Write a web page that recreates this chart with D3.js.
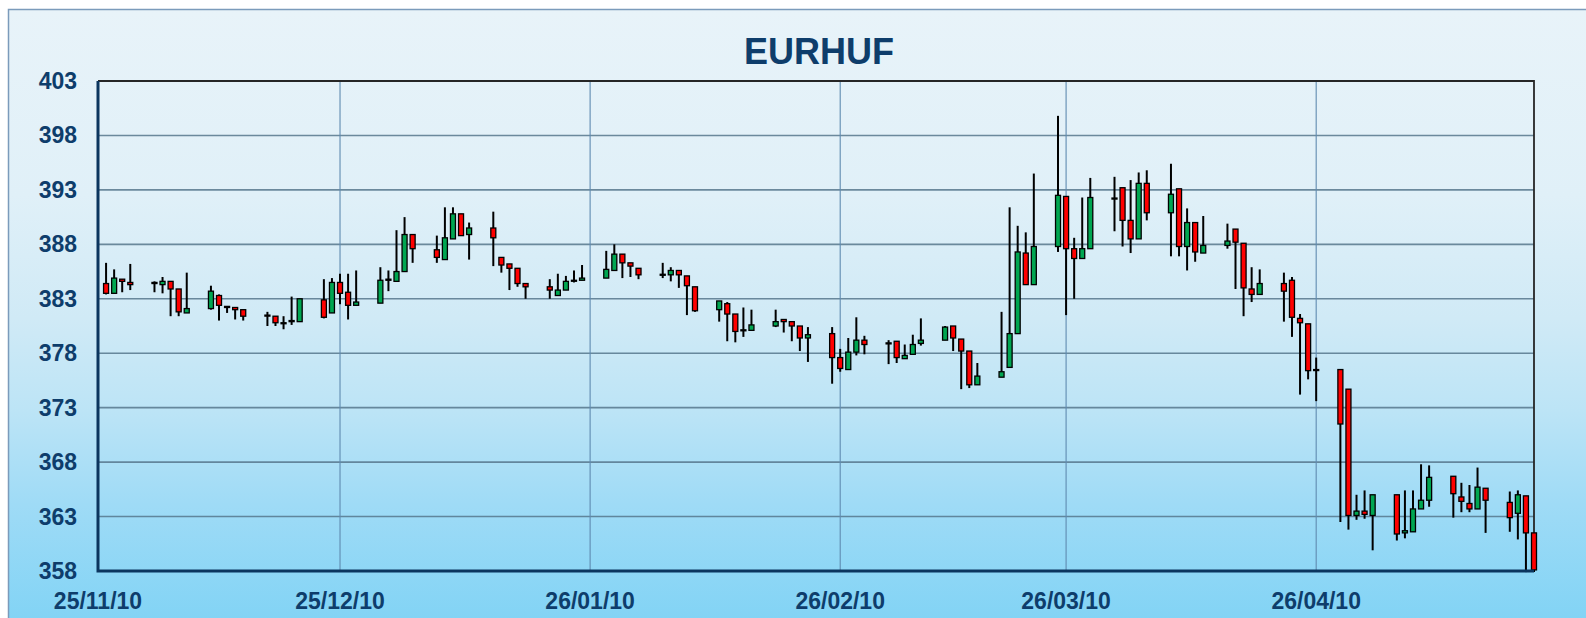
<!DOCTYPE html>
<html>
<head>
<meta charset="utf-8">
<title>EURHUF</title>
<script src="https://d3js.org/d3.v7.min.js"></script>
<style>
  html, body { margin: 0; padding: 0; background: #ffffff; }
  #chart { width: 1586px; height: 618px; overflow: hidden; }
  text { font-family: "Liberation Sans", Arial, sans-serif; font-weight: bold; }
</style>
</head>
<body>
<div id="chart"></div>
<script>
/**
 * EURHUF daily candlestick chart.
 * x = calendar days since 25/11/10, y = rate.
 */
(function () {
  'use strict';

  // calendar day offset of each candle (0 = 25/11/10)
  var days = [1, 2, 3, 4, 7, 8, 9, 10, 11, 14, 15, 16, 17, 18, 21, 22, 23, 24, 25,
    28, 29, 30, 31, 32, 35, 36, 37, 38, 39, 42, 43, 44, 45, 46, 49, 50, 51, 52, 53,
    56, 57, 58, 59, 60, 63, 64, 65, 66, 67, 70, 71, 72, 73, 74, 77, 78, 79, 80, 81,
    84, 85, 86, 87, 88, 91, 92, 93, 94, 95, 98, 99, 100, 101, 102, 105, 106, 107, 108, 109,
    112, 113, 114, 115, 116, 119, 120, 121, 122, 123, 126, 127, 128, 129, 130,
    133, 134, 135, 136, 137, 140, 141, 142, 143, 144, 147, 148, 149, 150, 151,
    154, 155, 156, 157, 158, 161, 162, 163, 164, 165, 168, 169, 170, 171, 172,
    175, 176, 177, 178];

  var open = [384.4, 383.5, 384.8, 384.5, 384.5, 384.3, 384.6, 383.9, 381.7, 382.1, 383.3, 382.3, 382.2, 382.0, 381.5, 381.4, 380.8, 380.9, 380.9,
    382.9, 381.7, 384.5, 383.6, 382.4, 382.6, 384.8, 384.6, 385.5, 388.9, 387.5, 386.6, 388.5, 390.8, 388.9, 389.5, 386.8, 386.2, 385.8, 384.4,
    384.1, 383.3, 383.8, 384.65, 384.7, 384.9, 385.6, 387.1, 386.3, 385.8, 385.2, 385.2, 385.6, 385.1, 384.1, 382.0, 382.55, 381.6, 380.1, 380.1,
    380.5, 381.1, 380.9, 380.5, 379.4, 379.8, 377.6, 376.5, 378.1, 379.2, 378.9, 379.1, 377.5, 377.9, 378.9, 379.2, 380.5, 379.3, 378.2, 375.1,
    375.8, 376.7, 379.8, 387.2, 384.3, 387.8, 392.4, 387.6, 386.7, 387.6, 392.2, 393.2, 390.2, 388.5, 393.6,
    390.9, 393.1, 387.8, 390.0, 387.2, 387.9, 389.4, 388.1, 383.9, 383.4, 384.4, 384.7, 381.2, 380.7, 376.5,
    376.5, 374.7, 363.1, 363.5, 363.1, 365.0, 361.5, 361.6, 363.7, 364.5, 366.7, 364.8, 364.2, 363.7, 365.6,
    364.3, 363.3, 364.9, 361.5];

  var high = [386.3, 385.7, 384.8, 386.2, 384.6, 385.0, 384.6, 383.9, 385.4, 384.2, 383.4, 382.3, 382.2, 382.0, 381.8, 381.4, 381.4, 383.2, 383.0,
    384.8, 384.9, 385.3, 385.3, 385.6, 385.9, 385.6, 389.3, 390.5, 388.9, 388.8, 391.4, 391.4, 390.8, 390.0, 391.0, 386.8, 386.2, 385.8, 384.4,
    384.8, 385.3, 385.1, 385.6, 386.1, 387.4, 388.0, 387.1, 386.3, 385.8, 386.3, 385.9, 385.6, 385.1, 384.1, 382.8, 382.7, 381.6, 382.2, 382.0,
    382.0, 381.1, 380.9, 380.5, 380.4, 380.4, 378.4, 379.4, 381.3, 379.6, 379.2, 379.1, 378.8, 379.7, 381.2, 380.5, 380.5, 379.3, 378.2, 377.1,
    381.8, 391.4, 389.7, 389.1, 394.5, 399.8, 392.4, 388.6, 392.3, 394.1, 394.2, 393.2, 393.9, 394.6, 394.8,
    395.4, 393.1, 391.3, 390.0, 390.6, 389.9, 389.4, 388.1, 385.9, 385.7, 385.4, 385.0, 381.6, 380.7, 377.6,
    376.5, 374.7, 365.0, 365.4, 365.0, 365.0, 365.4, 365.4, 367.8, 367.7, 366.7, 366.1, 365.9, 367.5, 365.6,
    365.3, 365.4, 364.9, 361.5];

  var low = [383.4, 383.5, 383.6, 383.8, 383.6, 383.5, 381.4, 381.4, 381.7, 382.0, 381.0, 381.7, 381.1, 381.0, 380.5, 380.5, 380.2, 380.6, 380.9,
    381.2, 381.7, 382.5, 381.1, 382.4, 382.6, 383.7, 384.6, 385.5, 386.3, 386.3, 386.6, 388.5, 388.8, 386.6, 386.0, 385.4, 383.8, 384.1, 383.0,
    383.0, 383.3, 383.8, 384.5, 384.7, 384.9, 385.6, 384.9, 385.0, 384.8, 384.9, 384.6, 384.0, 381.5, 381.8, 380.9, 379.1, 379.0, 379.5, 380.1,
    380.4, 379.9, 379.1, 378.2, 377.2, 375.2, 376.3, 376.5, 377.8, 377.9, 377.0, 377.1, 377.5, 377.9, 378.7, 379.2, 378.2, 374.7, 374.8, 375.1,
    375.8, 376.7, 379.8, 384.3, 384.3, 387.3, 381.5, 383.0, 386.7, 387.6, 389.2, 387.8, 387.2, 388.5, 390.2,
    386.9, 386.9, 385.6, 386.4, 387.2, 387.6, 383.9, 381.4, 382.7, 383.4, 380.9, 379.5, 374.2, 375.6, 373.6,
    362.5, 361.8, 362.7, 362.8, 359.9, 360.8, 361.0, 361.6, 363.7, 363.9, 362.9, 363.4, 363.4, 363.7, 361.5,
    361.6, 360.9, 357.9, 357.9];

  var close = [383.5, 384.9, 384.6, 384.3, 384.4, 384.6, 383.9, 381.8, 382.1, 383.7, 382.4, 382.2, 382.0, 381.4, 381.45, 380.8, 380.8, 381.0, 383.0,
    381.3, 384.5, 383.5, 382.4, 382.7, 384.7, 384.7, 385.5, 388.9, 387.6, 386.8, 388.6, 390.8, 388.8, 389.5, 388.6, 386.1, 385.8, 384.4, 384.1,
    383.8, 383.8, 384.6, 384.7, 384.9, 385.7, 387.1, 386.3, 386.0, 385.2, 385.25, 385.6, 385.2, 384.2, 381.9, 382.8, 381.6, 380.0, 380.15, 380.6,
    380.9, 380.9, 380.5, 379.4, 379.7, 377.6, 376.6, 378.1, 379.2, 378.8, 378.95, 377.6, 377.8, 378.8, 379.2, 380.4, 379.4, 378.2, 375.1, 375.9,
    376.3, 379.8, 387.3, 384.3, 387.8, 392.5, 387.6, 386.7, 387.6, 392.3, 392.25, 390.2, 388.5, 393.6, 390.9,
    392.6, 387.8, 390.0, 387.3, 387.9, 388.3, 388.2, 384.0, 383.4, 384.4, 383.7, 381.3, 380.8, 376.4, 376.45,
    371.5, 363.1, 363.5, 363.2, 365.0, 361.4, 361.7, 363.7, 364.5, 366.6, 365.1, 364.4, 363.7, 365.7, 364.5,
    362.9, 365.0, 361.5, 358.1];

  var yTicks = [358, 363, 368, 373, 378, 383, 388, 393, 398, 403];
  var xTickDays = [0, 30, 61, 92, 120, 151];
  var xTickLabels = ['25/11/10', '25/12/10', '26/01/10', '26/02/10', '26/03/10', '26/04/10'];
  var title = 'EURHUF';

  var W = 1586;
  var H = 618;
  var plot = { left: 98, top: 81, right: 1534, bottom: 571 };
  var navy = '#0e3d6b';

  var candles = days.map(function (d, i) {
    return { day: d, o: open[i], h: high[i], l: low[i], c: close[i] };
  });

  var svg = d3.select('#chart').append('svg')
    .attr('width', W)
    .attr('height', H);

  var defs = svg.append('defs');
  var grad = defs.append('linearGradient')
    .attr('id', 'bgGrad')
    .attr('x1', '0%').attr('y1', '0%').attr('x2', '0%').attr('y2', '100%');
  [['0%', '#e8f3f9'], ['30%', '#e0f0f8'], ['50%', '#d0eaf6'], ['65%', '#bce4f6'], ['80%', '#9fdbf6'], ['100%', '#80d3f5']]
    .forEach(function (s) {
      grad.append('stop').attr('offset', s[0]).attr('stop-color', s[1]);
    });

  // outer frame
  svg.append('rect')
    .attr('x', 8.5)
    .attr('y', 9.5)
    .attr('width', W + 20)
    .attr('height', H)
    .attr('fill', 'url(#bgGrad)')
    .attr('stroke', '#7b9bbb')
    .attr('stroke-width', 1.5);

  var x = d3.scaleLinear()
    .domain([0, 178])
    .range([plot.left, plot.right]);
  var y = d3.scaleLinear()
    .domain([358, 403])
    .range([plot.bottom, plot.top]);

  // grid
  var g = svg.append('g');
  g.selectAll('line.hgrid')
    .data(yTicks.slice(1, -1))
    .join('line')
    .attr('class', 'hgrid')
    .attr('x1', plot.left).attr('x2', plot.right)
    .attr('y1', function (d) { return y(d); })
    .attr('y2', function (d) { return y(d); })
    .attr('stroke', '#56778c')
    .attr('stroke-opacity', 0.85)
    .attr('stroke-width', 1.6);
  g.selectAll('line.vgrid')
    .data(xTickDays.slice(1))
    .join('line')
    .attr('class', 'vgrid')
    .attr('x1', function (d) { return x(d); })
    .attr('x2', function (d) { return x(d); })
    .attr('y1', plot.top).attr('y2', plot.bottom)
    .attr('stroke', '#5f8bb0')
    .attr('stroke-width', 1.1);

  // top / right border
  svg.append('path')
    .attr('d', 'M' + plot.left + ',' + plot.top + 'H' + plot.right + 'V' + plot.bottom)
    .attr('fill', 'none')
    .attr('stroke', '#262626')
    .attr('stroke-width', 1.8);

  // axes labels
  svg.append('g').selectAll('text')
    .data(yTicks)
    .join('text')
    .attr('x', 77)
    .attr('y', function (d) { return y(d); })
    .attr('dy', '0.35em')
    .attr('text-anchor', 'end')
    .attr('fill', navy)
    .attr('font-size', '23px')
    .text(function (d) { return d; });

  svg.append('g').selectAll('text')
    .data(xTickDays)
    .join('text')
    .attr('x', function (d) { return x(d); })
    .attr('y', 609)
    .attr('text-anchor', 'middle')
    .attr('fill', navy)
    .attr('font-size', '23px')
    .text(function (d, i) { return xTickLabels[i]; });

  svg.append('text')
    .attr('x', (plot.left + plot.right) / 2 + 3)
    .attr('y', 64)
    .attr('text-anchor', 'middle')
    .attr('fill', navy)
    .attr('font-size', '36px')
    .text(title);

  // candles
  var bodyW = 5;
  var cg = svg.append('g').attr('class', 'candles');
  cg.selectAll('line.wick')
    .data(candles)
    .join('line')
    .attr('class', 'wick')
    .attr('x1', function (d) { return x(d.day); })
    .attr('x2', function (d) { return x(d.day); })
    .attr('y1', function (d) { return y(d.h); })
    .attr('y2', function (d) { return y(d.l); })
    .attr('stroke', '#000')
    .attr('stroke-width', 2);
  cg.selectAll('rect.body')
    .data(candles)
    .join('rect')
    .attr('class', 'body')
    .attr('x', function (d) { return x(d.day) - bodyW / 2; })
    .attr('y', function (d) { return y(Math.max(d.o, d.c)); })
    .attr('width', bodyW)
    .attr('height', function (d) { return Math.max(1, Math.abs(y(d.o) - y(d.c))); })
    .attr('fill', function (d) { return d.c >= d.o ? '#00a651' : '#ff0000'; })
    .attr('stroke', '#000')
    .attr('stroke-width', 1.3);

  // left / bottom axis lines
  svg.append('path')
    .attr('d', 'M' + plot.left + ',' + plot.top + 'V' + plot.bottom + 'H' + plot.right)
    .attr('fill', 'none')
    .attr('stroke', '#0b355e')
    .attr('stroke-width', 3);
})();
</script>
</body>
</html>
